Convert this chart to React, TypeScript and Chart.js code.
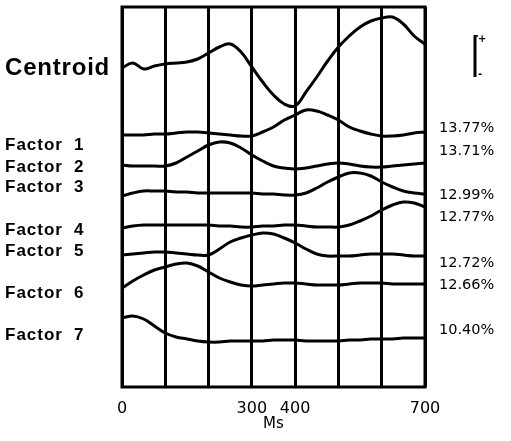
import React, { useEffect, useRef } from "react";
import { Chart, registerables } from "chart.js";

Chart.register(...registerables);

// Time axis (ms)
const times = [0, 25, 50, 75, 100, 125, 150, 175, 200, 225, 250, 275, 300, 325, 350, 375, 400, 425, 450, 475, 500, 525, 550, 575, 600, 625, 650, 675, 700];
const tickLabels = [0, 300, 400, 700];

// Trace values (stacked offsets, arbitrary units)
const centroid = [319, 324, 318, 321, 323, 324, 325, 328, 334, 340, 343, 335, 320, 305, 292, 283, 281, 295, 310, 326, 340, 351, 360, 366, 369, 370, 363, 351, 343];
const factor1 = [252, 252, 252, 253, 253, 254, 255, 255, 254, 253, 252, 251, 251, 255, 260, 267, 272, 277, 276, 272, 267, 260, 256, 253, 251, 251, 252, 254, 255];
const factor2 = [222, 221, 221, 221, 221, 224, 230, 236, 242, 245, 244, 239, 232, 226, 221, 219, 218, 219, 221, 223, 224, 223, 221, 220, 220, 221, 222, 223, 224];
const factor3 = [191, 194, 196, 196, 196, 195, 195, 194, 194, 194, 194, 194, 194, 193, 193, 192, 192, 194, 199, 205, 210, 214, 214, 211, 205, 200, 196, 194, 193];
const factor4 = [159, 161, 162, 162, 162, 162, 162, 162, 162, 161, 161, 160, 160, 161, 161, 162, 162, 161, 160, 160, 160, 162, 166, 171, 177, 182, 185, 184, 180];
const factor5 = [132, 133, 134, 135, 135, 134, 133, 132, 132, 138, 145, 149, 152, 154, 153, 149, 144, 138, 133, 131, 131, 131, 132, 133, 133, 133, 132, 131, 131];
const factor6 = [99, 106, 112, 117, 120, 123, 124, 121, 115, 109, 105, 102, 101, 102, 103, 104, 104, 103, 102, 102, 102, 103, 104, 104, 104, 103, 103, 103, 103];
const factor7 = [69, 71, 68, 61, 54, 50, 48, 46, 45, 45, 46, 46, 46, 46, 47, 47, 47, 46, 46, 46, 46, 47, 47, 48, 48, 48, 49, 49, 49];

const factorNames = ["1", "2", "3", "4", "5", "6", "7"];
const percentages = ["13.77%", "13.71%", "12.99%", "12.77%", "12.72%", "12.66%", "10.40%"];

// Label placement (value units on the vertical scale)
const centroidLabelPos = 319;
const factorLabelPos = [242, 220, 200, 157, 136, 94, 52];
const percentLabelPos = [259, 236, 192, 170, 124, 102, 57];
const scaleBarRange = [310, 352];

const Y_MAX = 380;

const labelPlugin = {
  id: "labels",
  afterDraw(chart: any) {
    const { ctx, chartArea } = chart;
    const y = chart.scales.y;
    ctx.save();
    // box
    ctx.strokeStyle = "#000";
    ctx.lineWidth = 3;
    ctx.strokeRect(chartArea.left, chartArea.top, chartArea.right - chartArea.left, chartArea.bottom - chartArea.top);

    ctx.fillStyle = "#000";
    ctx.textBaseline = "middle";
    ctx.textAlign = "left";
    // Centroid label
    ctx.font = "bold 24px 'Liberation Sans', Arial, sans-serif";
    (ctx as any).letterSpacing = "0.8px";
    ctx.fillText("Centroid", 5, y.getPixelForValue(centroidLabelPos));
    // Factor labels
    ctx.font = "bold 17px 'Liberation Sans', Arial, sans-serif";
    (ctx as any).letterSpacing = "1px";
    factorNames.forEach((n, i) => {
      const py = y.getPixelForValue(factorLabelPos[i]);
      ctx.fillText("Factor", 5, py);
      ctx.fillText(n, 74, py);
    });
    (ctx as any).letterSpacing = "0px";
    // percentages
    ctx.font = "14.5px 'DejaVu Sans', sans-serif";
    percentages.forEach((p, i) => {
      ctx.fillText(p, 439, y.getPixelForValue(percentLabelPos[i]));
    });
    // scale bar
    const top = y.getPixelForValue(scaleBarRange[1]);
    const bot = y.getPixelForValue(scaleBarRange[0]);
    ctx.lineWidth = 3;
    ctx.beginPath();
    ctx.moveTo(475, top);
    ctx.lineTo(475, bot);
    ctx.stroke();
    ctx.lineWidth = 1.5;
    ctx.beginPath();
    ctx.moveTo(475, top + 1);
    ctx.lineTo(478, top + 1);
    ctx.stroke();
    ctx.font = "bold 10px 'DejaVu Sans', sans-serif";
    ctx.fillText("+", 478, top + 4);
    ctx.fillText("-", 478, bot - 3);
    ctx.restore();
  },
};

export default function App() {
  const ref = useRef<HTMLCanvasElement | null>(null);
  useEffect(() => {
    if (!ref.current) return;
    const series = [centroid, factor1, factor2, factor3, factor4, factor5, factor6, factor7];
    const chart = new Chart(ref.current, {
      type: "line",
      data: {
        labels: times,
        datasets: series.map((s) => ({
          data: s.map((v, i) => ({ x: times[i], y: v })),
          borderColor: "#000",
          borderWidth: 3,
          pointRadius: 0,
          tension: 0.4,
          fill: false,
        })),
      },
      options: {
        responsive: false,
        animation: false,
        events: [],
        layout: { padding: { left: 122, right: 86, top: 7, bottom: 0 } },
        plugins: { legend: { display: false }, tooltip: { enabled: false } },
        scales: {
          x: {
            type: "linear",
            min: 0,
            max: 700,
            ticks: {
              stepSize: 100,
              autoSkip: false,
              maxRotation: 0,
              padding: 12,
              color: "#000",
              font: { family: "'DejaVu Sans', sans-serif", size: 16 },
              callback: (v: any) => (tickLabels.includes(Number(v)) ? String(v) : ""),
            },
            grid: { color: "#000", lineWidth: 3, drawTicks: false },
            border: { display: false },
            title: {
              display: true,
              text: "Ms",
              color: "#000",
              font: { family: "'DejaVu Sans', sans-serif", size: 15 },
              padding: { top: 0, bottom: 8 },
            },
            afterFit: (s: any) => {
              s.height = 54;
            },
          },
          y: { display: false, min: 0, max: Y_MAX },
        },
      },
      plugins: [labelPlugin],
    } as any);
    return () => chart.destroy();
  }, []);
  return (
    <div style={{ position: "fixed", left: 0, top: 0, width: 511, height: 441, background: "#fff" }}>
      <canvas ref={ref} width={511} height={441} />
    </div>
  );
}
